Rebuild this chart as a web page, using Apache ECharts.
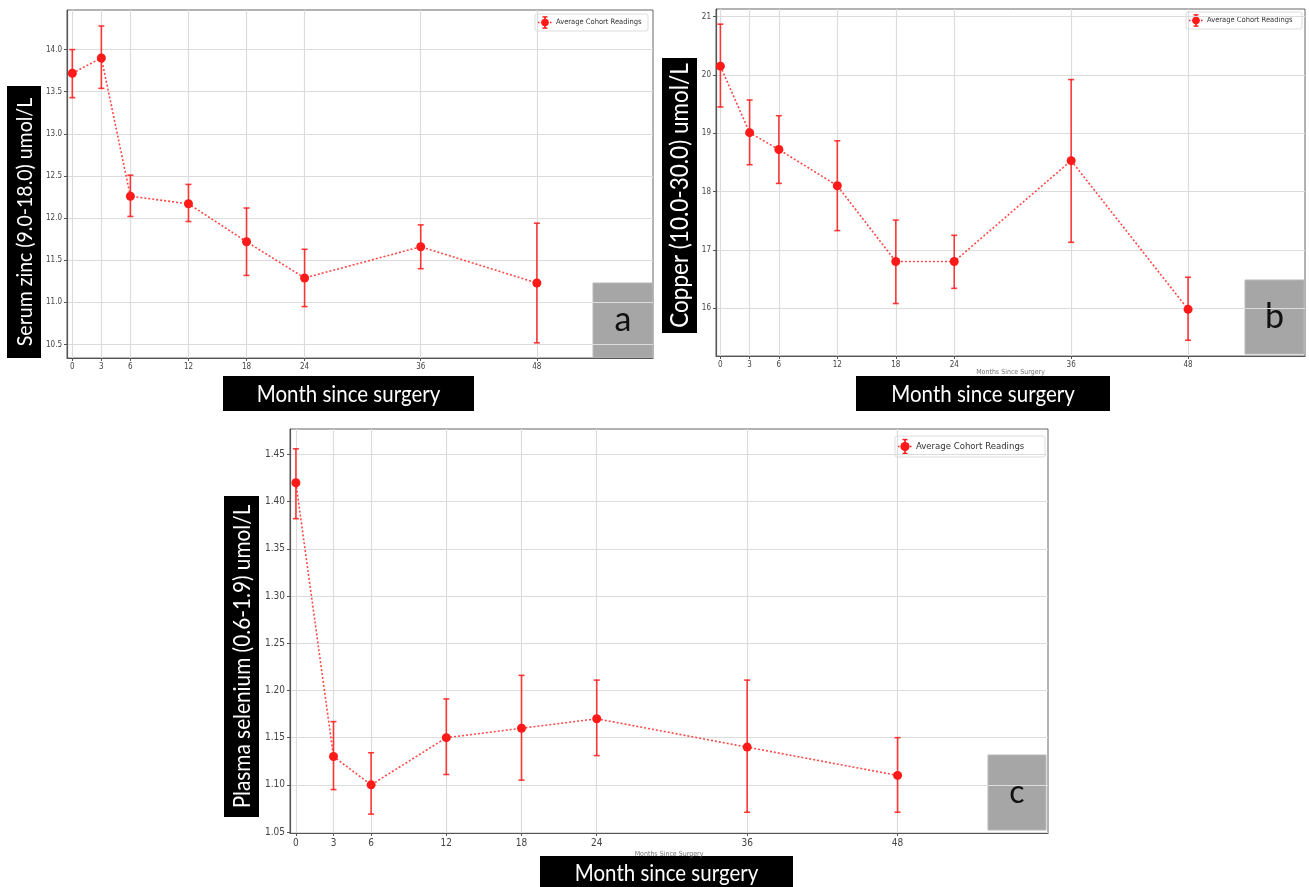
<!DOCTYPE html>
<html>
<head>
<meta charset="utf-8">
<script src="https://cdn.jsdelivr.net/npm/echarts@6/dist/echarts.min.js"></script>
<style>
  html, body { margin: 0; padding: 0; background: #fff; }
  #chart { width: 1309px; height: 887px; }
</style>
</head>
<body>
<div id="chart"></div>
<script>
// Months after surgery at which the cohort was sampled
const months = [0, 3, 6, 12, 18, 24, 36, 48];
const monthTicks = [0, 3, 6, 12, 18, 24, 36, 48];

// Serum zinc (umol/L): mean and error-bar bounds
const zincMean = [13.72, 13.90, 12.26, 12.17, 11.72, 11.29, 11.66, 11.23];
const zincLow  = [13.43, 13.54, 12.02, 11.96, 11.32, 10.95, 11.40, 10.52];
const zincHigh = [14.00, 14.28, 12.51, 12.40, 12.12, 11.63, 11.92, 11.94];
const zincTicks = [10.5, 11.0, 11.5, 12.0, 12.5, 13.0, 13.5, 14.0];

// Copper (umol/L)
const copperMean = [20.15, 19.01, 18.72, 18.10, 16.80, 16.80, 18.53, 15.98];
const copperLow  = [19.45, 18.46, 18.14, 17.33, 16.08, 16.34, 17.13, 15.45];
const copperHigh = [20.87, 19.57, 19.30, 18.87, 17.51, 17.25, 19.92, 16.53];
const copperTicks = [16, 17, 18, 19, 20, 21];

// Plasma selenium (umol/L)
const seleniumMean = [1.42, 1.13, 1.10, 1.15, 1.16, 1.17, 1.14, 1.11];
const seleniumLow  = [1.382, 1.095, 1.069, 1.111, 1.105, 1.131, 1.071, 1.071];
const seleniumHigh = [1.456, 1.167, 1.134, 1.191, 1.216, 1.211, 1.211, 1.150];
const seleniumTicks = [1.05, 1.10, 1.15, 1.20, 1.25, 1.30, 1.35, 1.40, 1.45];

const seriesName = 'Average Cohort Readings';
const xTitle = 'Month since surgery';
const xTitleSmall = 'Months Since Surgery';

const RED = '#ff1a1a';
const tickFont = "'DejaVu Sans Condensed', 'Liberation Sans Narrow', 'DejaVu Sans', sans-serif";
const boxFont = "Lato, 'Open Sans', sans-serif";

const panels = [
  {
    mean: zincMean, low: zincLow, high: zincHigh, yTicks: zincTicks, yDigits: 1,
    yTitle: 'Serum zinc (9.0-18.0) umol/L', letter: 'a',
    grid: { left: 67, top: 10, width: 586, height: 348 },
    xRange: [-0.55, 60], yRange: [10.34, 14.47], tickSize: 8,
    yBox: [7, 86, 34, 272], yFont: 19.5,
    xBox: [223, 376, 251, 35], xFont: 20.5,
    letterBox: [593, 283, 60, 75], letterFont: 34,
    captionY: null,
    legend: [535, 14, 113, 17, 7.5]
  },
  {
    mean: copperMean, low: copperLow, high: copperHigh, yTicks: copperTicks, yDigits: 0,
    yTitle: 'Copper (10.0-30.0) umol/L', letter: 'b',
    grid: { left: 716, top: 9, width: 589, height: 347 },
    xRange: [-0.45, 60], yRange: [15.18, 21.13], tickSize: 8,
    yBox: [662, 58, 35, 275], yFont: 22.5,
    xBox: [856, 376, 254, 35], xFont: 20.5,
    letterBox: [1245, 280, 59, 74], letterFont: 34,
    captionY: 369,
    legend: [1186, 12, 116, 17, 7.5]
  },
  {
    mean: seleniumMean, low: seleniumLow, high: seleniumHigh, yTicks: seleniumTicks, yDigits: 2,
    yTitle: 'Plasma selenium (0.6-1.9) umol/L', letter: 'c',
    grid: { left: 290, top: 429, width: 758, height: 404 },
    xRange: [-0.47, 60], yRange: [1.049, 1.477], tickSize: 10,
    yBox: [224, 496, 35, 321], yFont: 20.8,
    xBox: [540, 856, 253, 34], xFont: 20.5,
    letterBox: [988, 755, 58, 75], letterFont: 32,
    captionY: 851,
    legend: [895, 436, 150, 21, 9.5]
  }
];

const grids = [], xAxes = [], yAxes = [], series = [], graphics = [];

panels.forEach((p, i) => {
  grids.push(Object.assign({ show: true, borderColor: '#666', borderWidth: 1, backgroundColor: '#fff' }, p.grid));

  xAxes.push({
    type: 'value', gridIndex: i, min: p.xRange[0], max: p.xRange[1],
    axisLine: { show: true, onZero: false, lineStyle: { color: '#555', width: 1.2 } },
    axisTick: { show: true, length: 3, customValues: monthTicks, lineStyle: { color: '#555' } },
    axisLabel: { customValues: monthTicks, fontSize: p.tickSize, color: '#444', fontFamily: tickFont, margin: 5 },
    splitLine: { show: true, lineStyle: { color: '#dcdcdc', width: 1.2 } }
  });

  yAxes.push({
    type: 'value', gridIndex: i, min: p.yRange[0], max: p.yRange[1],
    axisLine: { show: true, onZero: false, lineStyle: { color: '#555', width: 1.2 } },
    axisTick: { show: true, length: 3, customValues: p.yTicks, lineStyle: { color: '#555' } },
    axisLabel: {
      customValues: p.yTicks, fontSize: p.tickSize, color: '#444', fontFamily: tickFont, margin: 5,
      formatter: v => v.toFixed(p.yDigits)
    },
    splitLine: { show: true, lineStyle: { color: '#dcdcdc', width: 1.2 } }
  });

  // dotted connecting line with round markers
  series.push({
    type: 'line', name: seriesName, xAxisIndex: i, yAxisIndex: i,
    data: months.map((m, k) => [m, p.mean[k]]),
    lineStyle: { color: RED, width: 1.6, type: [2, 2], opacity: 0.8 },
    itemStyle: { color: RED },
    symbol: 'circle', symbolSize: 9, z: 4,
    animation: false
  });

  // vertical error bars with caps
  series.push({
    type: 'custom', name: seriesName, xAxisIndex: i, yAxisIndex: i,
    data: months.map((m, k) => [m, p.low[k], p.high[k]]),
    encode: { x: 0, y: [1, 2] },
    z: 3, animation: false,
    renderItem: (params, api) => {
      const lo = api.coord([api.value(0), api.value(1)]);
      const hi = api.coord([api.value(0), api.value(2)]);
      const c = 3;
      const st = { stroke: RED, lineWidth: 1.6, opacity: 0.85 };
      return {
        type: 'group',
        children: [
          { type: 'line', shape: { x1: lo[0], y1: lo[1], x2: hi[0], y2: hi[1] }, style: st },
          { type: 'line', shape: { x1: lo[0] - c, y1: lo[1], x2: lo[0] + c, y2: lo[1] }, style: st },
          { type: 'line', shape: { x1: hi[0] - c, y1: hi[1], x2: hi[0] + c, y2: hi[1] }, style: st }
        ]
      };
    }
  });

  // faint original axis caption peeking out above the black title box
  if (p.captionY !== null) {
    graphics.push({
      type: 'text', z: 5,
      style: {
        text: xTitleSmall, x: p.grid.left + p.grid.width / 2, y: p.captionY,
        fill: '#777', font: `7px ${tickFont}`, align: 'center', verticalAlign: 'top'
      }
    });
  }

  // legend box
  const [lx, ly, lw, lh, lf] = p.legend;
  const cx = lx + 10, cy = ly + lh / 2;
  graphics.push({
    type: 'group', z: 20,
    children: [
      { type: 'rect', shape: { x: lx, y: ly, width: lw, height: lh, r: 2 }, style: { fill: 'rgba(255,255,255,0.9)', stroke: '#ddd', lineWidth: 1 } },
      { type: 'line', shape: { x1: lx + 3, y1: cy, x2: lx + 17, y2: cy }, style: { stroke: RED, lineWidth: 1.4, lineDash: [1.5, 1.5] } },
      { type: 'line', shape: { x1: cx, y1: cy - lh * 0.33, x2: cx, y2: cy + lh * 0.33 }, style: { stroke: RED, lineWidth: 1.6 } },
      { type: 'line', shape: { x1: cx - 2.5, y1: cy - lh * 0.33, x2: cx + 2.5, y2: cy - lh * 0.33 }, style: { stroke: RED, lineWidth: 1.4 } },
      { type: 'line', shape: { x1: cx - 2.5, y1: cy + lh * 0.33, x2: cx + 2.5, y2: cy + lh * 0.33 }, style: { stroke: RED, lineWidth: 1.4 } },
      { type: 'circle', shape: { cx: cx, cy: cy, r: lh * 0.22 }, style: { fill: RED } },
      { type: 'text', style: { text: seriesName, x: lx + 21, y: cy, fill: '#333', font: `${lf}px ${tickFont}`, verticalAlign: 'middle' } }
    ]
  });

  // black x-title box
  const [bx, by, bw, bh] = p.xBox;
  graphics.push({
    type: 'group', z: 30,
    children: [
      { type: 'rect', shape: { x: bx, y: by, width: bw, height: bh }, style: { fill: '#000' } },
      { type: 'text', x: bx + bw / 2, y: by + bh / 2 + 1, scaleY: 1.12,
        style: { text: xTitle, x: 0, y: 0, fill: '#fff', font: `${p.xFont}px ${boxFont}`, align: 'center', verticalAlign: 'middle' } }
    ]
  });

  // black rotated y-title box
  const [yx, yy, yw, yh] = p.yBox;
  graphics.push({
    type: 'group', z: 30,
    children: [
      { type: 'rect', shape: { x: yx, y: yy, width: yw, height: yh }, style: { fill: '#000' } },
      {
        type: 'text', x: yx + yw / 2 + 1, y: yy + yh / 2, rotation: Math.PI / 2, scaleY: 1.1,
        style: { text: p.yTitle, x: 0, y: 0, fill: '#fff', font: `${p.yFont}px ${boxFont}`, align: 'center', verticalAlign: 'middle' }
      }
    ]
  });

  // grey panel letter
  const [gx, gy, gw, gh] = p.letterBox;
  graphics.push({
    type: 'group', z: 30,
    children: [
      { type: 'rect', shape: { x: gx, y: gy, width: gw, height: gh }, style: { fill: '#a6a6a6', stroke: '#b8b8b8', lineWidth: 1 } },
      { type: 'text', style: { text: p.letter, x: gx + gw / 2, y: gy + gh / 2, fill: '#111', font: `${p.letterFont}px ${boxFont}`, align: 'center', verticalAlign: 'middle' } }
    ]
  });
});

const chart = echarts.init(document.getElementById('chart'), null, { renderer: 'canvas' });
chart.setOption({
  animation: false,
  backgroundColor: '#fff',
  grid: grids,
  xAxis: xAxes,
  yAxis: yAxes,
  series: series,
  graphic: graphics
});
</script>
</body>
</html>
